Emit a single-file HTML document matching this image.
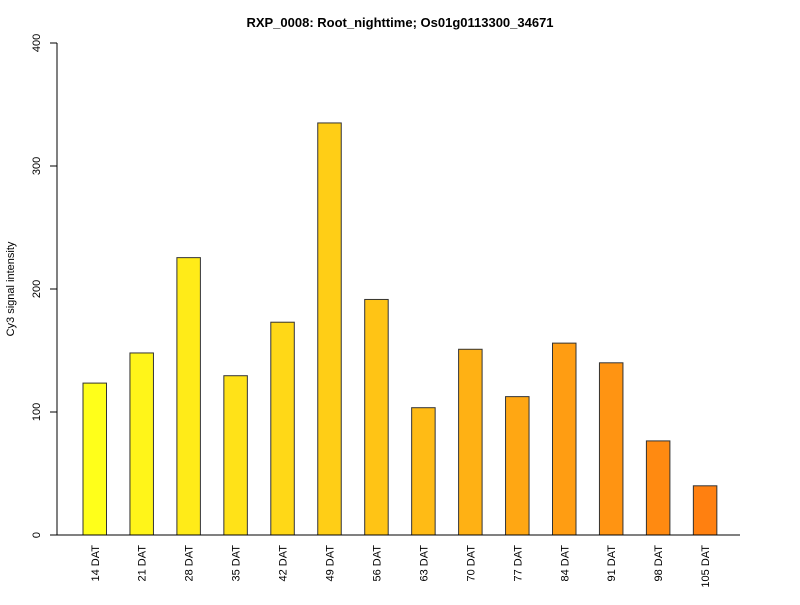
<!DOCTYPE html>
<html><head><meta charset="utf-8"><style>
body{margin:0;background:#fff}
svg text{font-family:"Liberation Sans",Arial,sans-serif;fill:#000}
</style></head><body>
<svg id="chart" width="800" height="600" xmlns="http://www.w3.org/2000/svg">
<text x="400" y="27" text-anchor="middle" font-size="13" font-weight="bold">RXP_0008: Root_nighttime; Os01g0113300_34671</text>
<text transform="translate(14,289) rotate(-90)" text-anchor="middle" font-size="11">Cy3 signal intensity</text>
<g id="yaxis"></g>
<g id="bars"></g>
<line x1="57" y1="535" x2="740" y2="535" stroke="#000"/>
</svg>
<script>
const categories=["14 DAT","21 DAT","28 DAT","35 DAT","42 DAT","49 DAT","56 DAT","63 DAT","70 DAT","77 DAT","84 DAT","91 DAT","98 DAT","105 DAT"];
const values=[123.5,148,225.5,129.5,173,335,191.5,103.5,151,112.5,156,140,76.5,40];
const yTicks=[0,100,200,300,400];
const NS="http://www.w3.org/2000/svg";
const y=v=>535-v*1.23;
const x=i=>83+i*46.95;
const bw=23.5;
const svg=document.getElementById('chart');
const ya=document.getElementById('yaxis');
const bars=document.getElementById('bars');
function mk(t,a){const e=document.createElementNS(NS,t);for(const k in a)e.setAttribute(k,a[k]);return e;}
ya.appendChild(mk('line',{x1:57,y1:y(0),x2:57,y2:y(400),stroke:'#000'}));
yTicks.forEach(t=>{
  const l=mk('line',{x1:50,y1:y(t),x2:57,y2:y(t),stroke:'#000'});
  
  
  ya.appendChild(l);
  const tx=mk('text',{transform:`translate(40,${y(t)}) rotate(-90)`,'text-anchor':'middle','font-size':'11'});
  tx.textContent=t;
  
  
  ya.appendChild(tx);
});
const n=categories.length;
values.forEach((v,i)=>{
  const f=i/(n-1);
  const g=Math.round(255-f*(255-128));
  const b=Math.round(26-f*10);
  const r=mk('rect',{x:x(i),y:y(v),width:bw,height:y(0)-y(v),fill:`rgb(255,${g},${b})`,stroke:'#333','stroke-width':1});
  
  
  bars.appendChild(r);
  const cx=x(i)+bw/2+4;
  const tx=mk('text',{transform:`translate(${cx},545) rotate(-90)`,'text-anchor':'end','font-size':'11'});
  tx.textContent=categories[i];
  
  
  bars.appendChild(tx);
});
</script>
</body></html>
